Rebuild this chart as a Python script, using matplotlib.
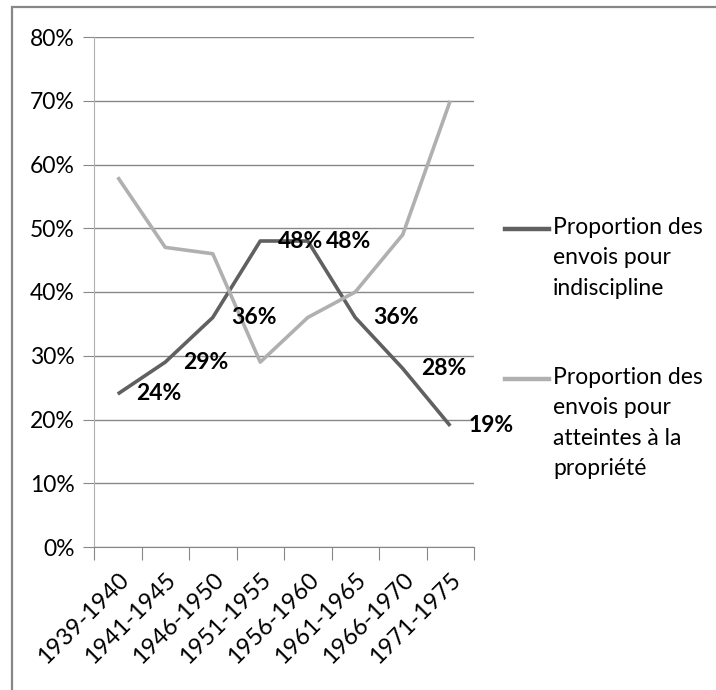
import matplotlib
matplotlib.use('Agg')
import matplotlib.pyplot as plt
from matplotlib.lines import Line2D
from matplotlib.patches import Rectangle
from matplotlib.ticker import FixedLocator, NullFormatter, FuncFormatter

plt.rcParams['font.family'] = ['Lato', 'DejaVu Sans']

periodes = ['1939-1940', '1941-1945', '1946-1950', '1951-1955',
            '1956-1960', '1961-1965', '1966-1970', '1971-1975']
indiscipline = [24, 29, 36, 48, 48, 36, 28, 19]
propriete = [58, 47, 46, 29, 36, 40, 49, 70]
noms = ['Proportion des\nenvois pour\nindiscipline',
        'Proportion des\nenvois pour\natteintes à la\npropriété']

c_fonce = '#606060'
c_clair = '#b0b0b0'
c_grille = '#878787'

W, H = 716, 690
fig = plt.figure(figsize=(W / 100, H / 100), dpi=100)

# cadre du graphique (bords gauche et haut visibles)
fig.add_artist(Rectangle((12 / W, -0.1), 1.2, (H - 7) / H + 0.1,
                         transform=fig.transFigure, fill=False,
                         edgecolor=c_grille, linewidth=1.6))

ax = fig.add_axes([94 / W, (H - 547) / H, (474 - 94) / W, (547 - 37) / H])

x = list(range(len(periodes)))
ax.plot(x, indiscipline, color=c_fonce, linewidth=2.6, solid_capstyle='butt', zorder=3)
ax.plot(x, propriete, color=c_clair, linewidth=2.6, solid_capstyle='butt', zorder=3)

for xi, v in zip(x, indiscipline):
    ax.annotate(f'{v}%', (xi, v), xytext=(13, 0), textcoords='offset points',
                ha='left', va='center', fontsize=16.5, fontweight='bold',
                color='black', zorder=4)

ax.set_xlim(-0.5, len(periodes) - 0.5)
ax.set_ylim(0, 80)
ax.set_yticks(range(0, 81, 10))
ax.yaxis.set_major_formatter(FuncFormatter(lambda v, p: f'{v:.0f}%'))
ax.grid(axis='y', color=c_grille, linewidth=1.0, zorder=1)
ax.tick_params(axis='y', length=8, color=c_grille, labelsize=16.5, pad=6)

ax.xaxis.set_major_locator(FixedLocator([i - 0.5 for i in range(len(periodes) + 1)]))
ax.xaxis.set_major_formatter(NullFormatter())
ax.xaxis.set_minor_locator(FixedLocator(x))
ax.set_xticks(x, periodes, minor=True)
ax.tick_params(axis='x', which='major', length=9, color=c_grille)
ax.tick_params(axis='x', which='minor', length=0, labelsize=17, pad=16)
for lab in ax.get_xticklabels(minor=True):
    lab.set_rotation(45)
    lab.set_ha('right')
    lab.set_va('top')
    lab.set_rotation_mode('anchor')

for s in ['top', 'right']:
    ax.spines[s].set_visible(False)
ax.spines['left'].set_color(c_clair)
ax.spines['bottom'].set_color(c_grille)

# légende à droite
for couleur, nom, ym in [(c_fonce, noms[0], 229), (c_clair, noms[1], 379)]:
    fig.add_artist(Line2D([505 / W, 549 / W], [1 - ym / H, 1 - ym / H],
                          transform=fig.transFigure, color=couleur, linewidth=3.2))
    fig.text(553 / W, 1 - (ym - 12) / H, nom, ha='left', va='top',
             fontsize=16.5, linespacing=1.55)

fig.savefig('out.png', dpi=100)
